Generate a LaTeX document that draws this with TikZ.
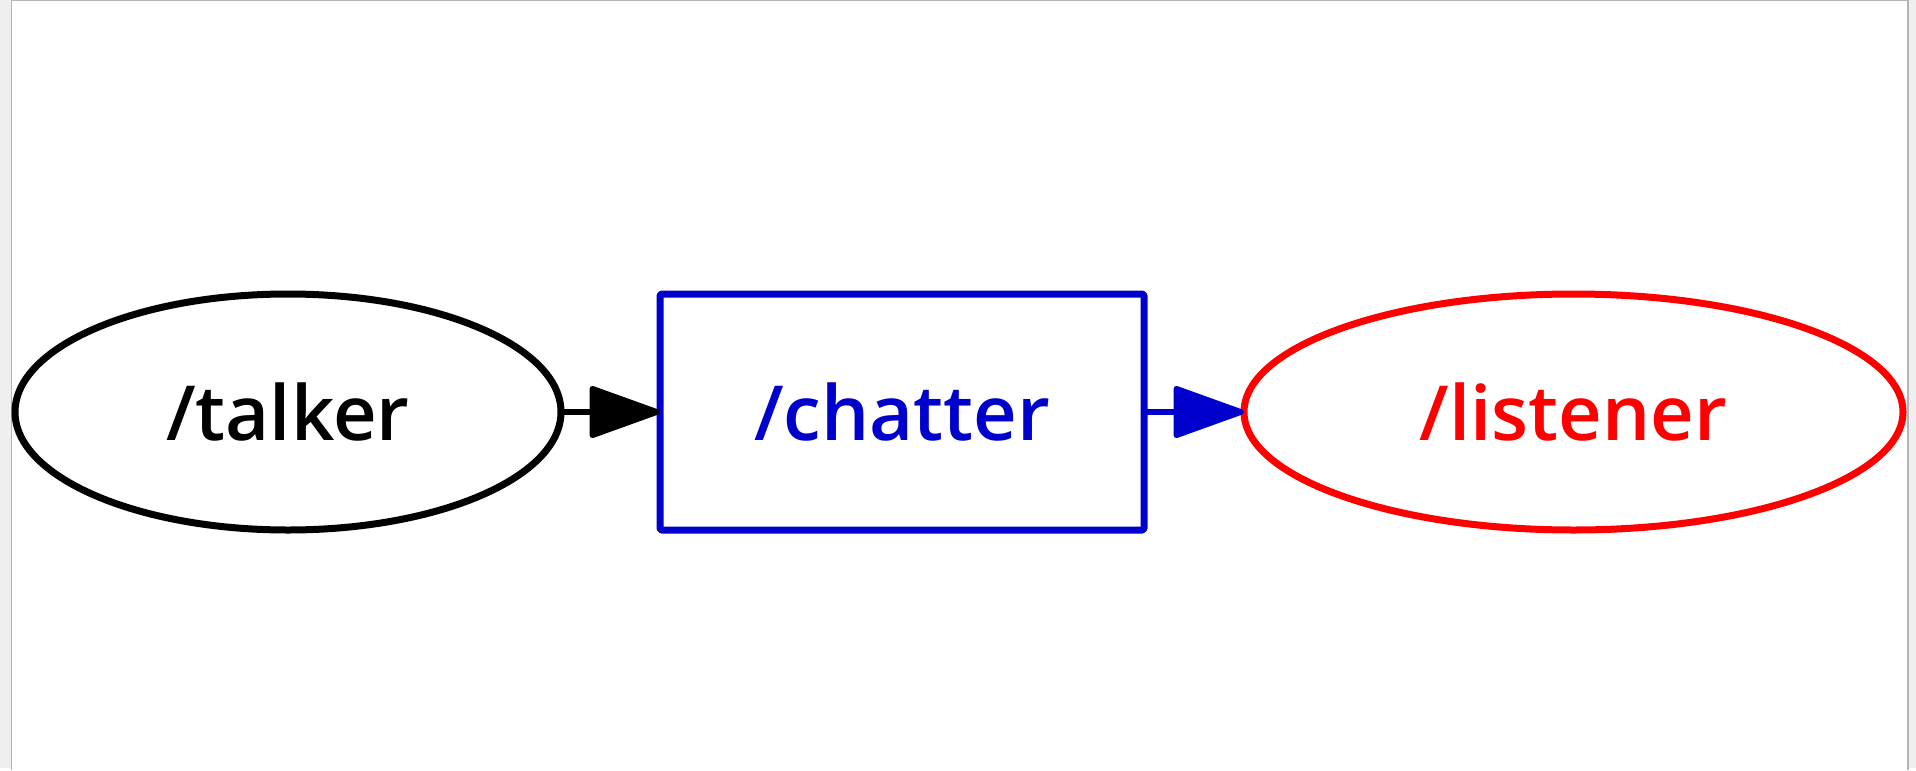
\documentclass[tikz,border=0pt]{standalone}
\usepackage{fontspec}
\setmainfont{Open Sans}
\newfontfamily\nodefont{Open Sans}[UprightFont=* Semibold]
\usetikzlibrary{shapes.geometric,arrows.meta}
\definecolor{tblue}{HTML}{0000CC}
\definecolor{tred}{HTML}{FF0000}
\definecolor{pagegray}{HTML}{EFEFEF}
\definecolor{framegray}{HTML}{B4B4B4}
\begin{document}
\begin{tikzpicture}[x=1pt,y=-1pt,
  nodebase/.style={line width=7pt,line join=round,inner sep=0pt,outer sep=0pt,minimum height=236pt,
    font=\fontsize{76}{92}\nodefont},
  ellnode/.style={nodebase,ellipse},
  boxnode/.style={nodebase,rectangle,rounded corners=1.5pt},
  edgeline/.style={line width=5.5pt,-{Triangle[length=76pt,width=53pt,round]}}]
\fill[pagegray] (0,0) rectangle (1916,768);
\fill[white] (11.5,0.5) rectangle (1908,768);
\draw[framegray,line width=1.2pt] (11.5,770) -- (11.5,0.6) -- (1908,0.6) -- (1908,770);
\useasboundingbox (0,0) rectangle (1916,768);
\node[ellnode,draw=black,text=black,minimum width=546pt] (talker) at (288,412) {/talker};
\node[boxnode,draw=tblue,text=tblue,minimum width=484pt] (chatter) at (902,412) {/chatter};
\node[ellnode,draw=tred,text=tred,minimum width=659pt] (listener) at (1573.5,412) {/listener};
\draw[edgeline,black] (talker) -- (chatter);
\draw[edgeline,tblue] (chatter) -- (listener);
\end{tikzpicture}
\end{document}
